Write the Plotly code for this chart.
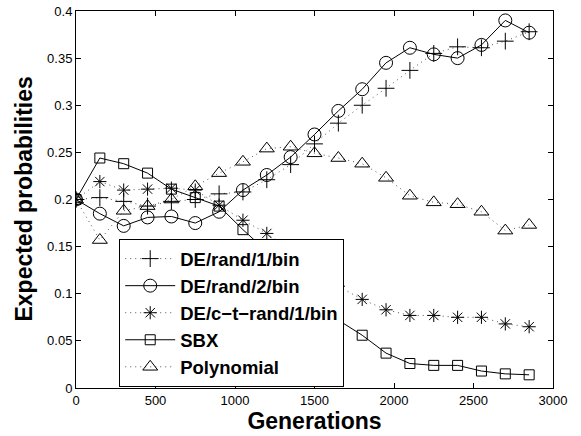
import plotly.graph_objects as go

generations = [0, 150, 300, 450, 600, 750, 900, 1050, 1200, 1350, 1500,
               1650, 1800, 1950, 2100, 2250, 2400, 2550, 2700, 2850]

de_rand_1_bin = [0.200, 0.202, 0.198, 0.193, 0.198, 0.200, 0.206, 0.208, 0.221, 0.237,
                 0.259, 0.281, 0.300, 0.318, 0.337, 0.355, 0.362, 0.361, 0.368, 0.378]
de_rand_2_bin = [0.200, 0.185, 0.172, 0.181, 0.182, 0.175, 0.187, 0.210, 0.226, 0.245,
                 0.269, 0.294, 0.317, 0.345, 0.361, 0.354, 0.350, 0.364, 0.390, 0.377]
de_ct_rand_1_bin = [0.200, 0.219, 0.210, 0.211, 0.212, 0.210, 0.194, 0.178, 0.164, 0.145,
                    0.125, 0.108, 0.094, 0.083, 0.077, 0.077, 0.075, 0.075, 0.068, 0.065]
sbx = [0.200, 0.244, 0.238, 0.228, 0.211, 0.202, 0.193, 0.168, 0.145, 0.120,
       0.095, 0.072, 0.056, 0.037, 0.026, 0.024, 0.024, 0.018, 0.015, 0.014]
polynomial = [0.200, 0.157, 0.188, 0.193, 0.200, 0.214, 0.228, 0.240, 0.254, 0.256,
              0.249, 0.244, 0.238, 0.223, 0.204, 0.197, 0.195, 0.187, 0.167, 0.173]

x_ticks = [0, 500, 1000, 1500, 2000, 2500, 3000]
y_ticks = [0, 0.05, 0.1, 0.15, 0.2, 0.25, 0.3, 0.35, 0.4]
y_tick_labels = ["0", "0.05", "0.1", "0.15", "0.2", "0.25", "0.3", "0.35", "0.4"]

FONT = "Liberation Sans, Arial, Helvetica, sans-serif"
DOT = "1px,4px"

series = [
    ("DE/rand/1/bin", de_rand_1_bin, "cross-thin-open", DOT, 12),
    ("DE/rand/2/bin", de_rand_2_bin, "circle-open", "solid", 13),
    ("DE/c\u2212t\u2212rand/1/bin", de_ct_rand_1_bin, "asterisk-open", DOT, 11),
    ("SBX", sbx, "square-open", "solid", 10),
    ("Polynomial", polynomial, "triangle-up-open", DOT, 13),
]

fig = go.Figure()
for name, vals, sym, dash, size in series:
    dotted = dash != "solid"
    fig.add_trace(go.Scatter(
        x=generations, y=vals, name=name, mode="lines+markers",
        line=dict(color="#555555" if dotted else "black", width=1, dash=dash),
        marker=dict(symbol=sym, size=size, color="black",
                    line=dict(color="black", width=1)),
    ))

axis_common = dict(showline=True, linecolor="black", linewidth=1, mirror="ticks",
                   ticks="inside", ticklen=5, tickcolor="black", showgrid=False,
                   zeroline=False, automargin=False,
                   tickfont=dict(family=FONT, size=13, color="black"))

fig.update_layout(
    width=581, height=436,
    margin=dict(l=76, r=28, t=11, b=48),
    paper_bgcolor="white", plot_bgcolor="white",
    font=dict(family=FONT, color="black"),
    xaxis=dict(range=[0, 3000], tickvals=x_ticks,
               title=dict(text="Generations", standoff=4,
                          font=dict(size=23, weight="bold", family=FONT)),
               **axis_common),
    yaxis=dict(range=[0, 0.4], tickvals=y_ticks, ticktext=y_tick_labels,
               **axis_common),
    legend=dict(x=0.0906, y=0.395, xanchor="left", yanchor="top",
                bgcolor="white", bordercolor="black", borderwidth=1,
                font=dict(size=18.5, weight="bold", family=FONT),
                itemwidth=50, tracegroupgap=0),
    showlegend=True,
    annotations=[dict(text="Expected probabilities", xref="paper", yref="paper",
                      x=-0.111, y=0.5, xanchor="center", yanchor="middle",
                      textangle=-90, showarrow=False,
                      font=dict(size=23, weight="bold", family=FONT, color="black"))],
)

fig.write_html("out.html", config={"displayModeBar": False},
               post_script="document.body.style.margin='0';")
